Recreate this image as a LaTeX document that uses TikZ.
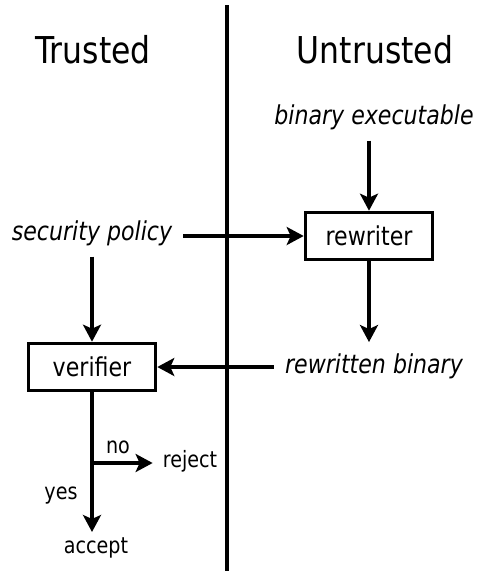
\documentclass[tikz,border=0pt]{standalone}
\usepackage{fontspec}
\setmainfont{DejaVu Sans}[FakeStretch=0.85]
\usetikzlibrary{arrows.meta}

\tikzset{
  title/.style={font=\fontsize{37}{40}\selectfont, anchor=base},
  item/.style={font=\fontsize{26}{30}\selectfont\itshape, anchor=base, inner sep=11pt},
  stage/.style={draw, line width=3.6pt, minimum width=127pt, minimum height=47pt,
                inner sep=0pt, font=\fontsize{26}{30}\selectfont},
  small/.style={font=\fontsize{22.5}{26}\selectfont, anchor=base, inner sep=5pt},
  flow/.style={line width=3.6pt, -{Stealth[length=17pt,width=18pt,inset=4pt]}},
}

\begin{document}
\begin{tikzpicture}[x=1pt, y=-1pt]
  \useasboundingbox (0,0) rectangle (478,571);

  % trust boundary
  \coordinate (top) at (227,5);
  \coordinate (bottom) at (227,571);
  \draw[line width=3.6pt] (top) -- (bottom);

  % Draw nodes
  \node[title] (trusted)   at (93,63)  {Trusted};
  \node[title] (untrusted) at (375,63) {Untrusted};

  \node[item]  (exec)   at (374,124) {binary executable};
  \node[stage] (rewriter) at (369,236) {rewriter};
  \node[item]  (policy) at (92,240)  {security policy};
  \node[item]  (binary) at (374,373) {rewritten binary};
  \node[stage] (verifier) at (92,367) {verifier};

  \coordinate (fork) at (92,463);
  \node[small] (no)     at (118,453) {no};
  \node[small, inner sep=10pt] (reject) at (190,467) {reject};
  \node[small] (yes)    at (61,499)  {yes};
  \node[small] (accept) at (96,553)  {accept};

  % Draw arrows
  \draw[flow] (rewriter.north |- exec.south) -- (rewriter.north);
  \draw[flow] (policy.east |- rewriter.west) -- (rewriter.west);
  \draw[flow] (rewriter.south) -- (rewriter.south |- binary.north);
  \draw[flow] (verifier.north |- policy.south) -- (verifier.north);
  \draw[flow] (binary.west |- verifier.east) -- (verifier.east);
  \draw[flow] (verifier.south) -- (verifier.south |- accept.north);
  \draw[flow] (fork) -- (fork -| reject.west);

\end{tikzpicture}
\end{document}
